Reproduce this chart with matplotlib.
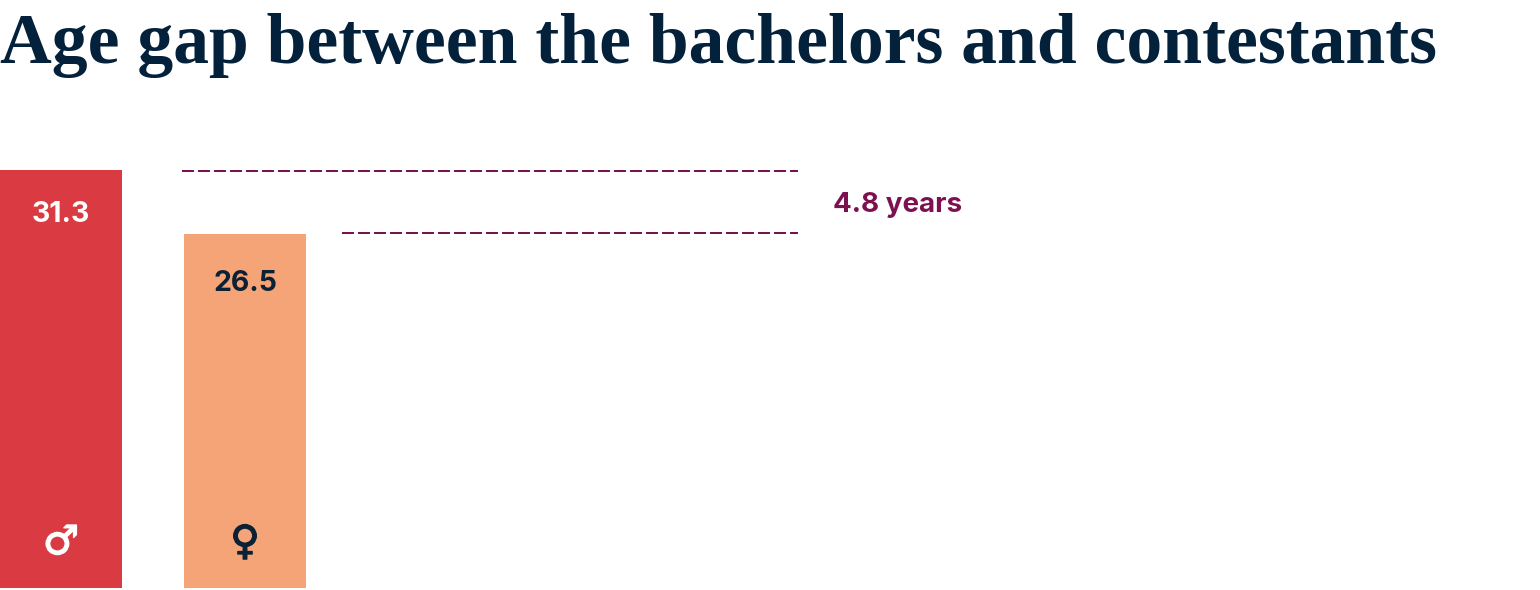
import matplotlib
matplotlib.use('Agg')
import matplotlib.pyplot as plt
import matplotlib.patheffects as pe

labels = ['31.3', '26.5']
ages = [31.3, 26.5]
symbols = ['\u2642', '\u2640']
gap_label = '4.8 years'
title = 'Age gap between the bachelors and contestants'

W, H = 1540, 590
NAVY = '#03213a'
PURPLE = '#7d1150'
colors = ['#da3a41', '#f4a477']
text_colors = ['white', '#0b2136']
label_drop = [45, 49]  # px below bar top

fig = plt.figure(figsize=(W / 100, H / 100), dpi=100, facecolor='w')
ax = fig.add_axes([0, 2 / H, 1, 1 - 2 / H])
ax.set_xlim(0, W)
# bar top of 31.3 lands on y=170 px, baseline on y=588
scale = 418 / 31.3
ax.set_ylim(0, (H - 2) / scale)
ax.axis('off')

bar_left = [0, 184]
bar_w = 122
ax.bar(bar_left, ages, width=bar_w, align='edge', color=colors, linewidth=0)

for x, age, lab, sym, c, drop in zip(bar_left, ages, labels, symbols, text_colors, label_drop):
    ax.text(x + bar_w / 2, age - drop / scale, lab, color=c, fontsize=20.5,
            family='Inter', weight='bold', ha='center', va='center')
    t = ax.text(x + bar_w / 2, 45 / scale, sym, color=c, fontsize=29,
                family='DejaVu Sans', weight='bold', ha='center', va='center')
    # the glyphs are heavier in the reference
    t.set_path_effects([pe.withStroke(linewidth=1.0, foreground=c)])

dash = (0, (6, 2))
ax.hlines(ages[0] - 1 / scale, 182, 798, color=PURPLE, lw=1.44, linestyles=dash)
ax.hlines(ages[1] + 1.3 / scale, 342, 798, color=PURPLE, lw=1.44, linestyles=dash)
ax.text(833, (ages[0] + ages[1]) / 2 - 3 / scale, gap_label, color=PURPLE, fontsize=20,
        family='Inter', weight='bold', ha='left', va='center')

fig.text(0, 1 - 45 / H, title, color=NAVY, fontsize=51.6, family='Liberation Serif',
         weight='bold', ha='left', va='center')

fig.savefig('out.png', dpi=100)
